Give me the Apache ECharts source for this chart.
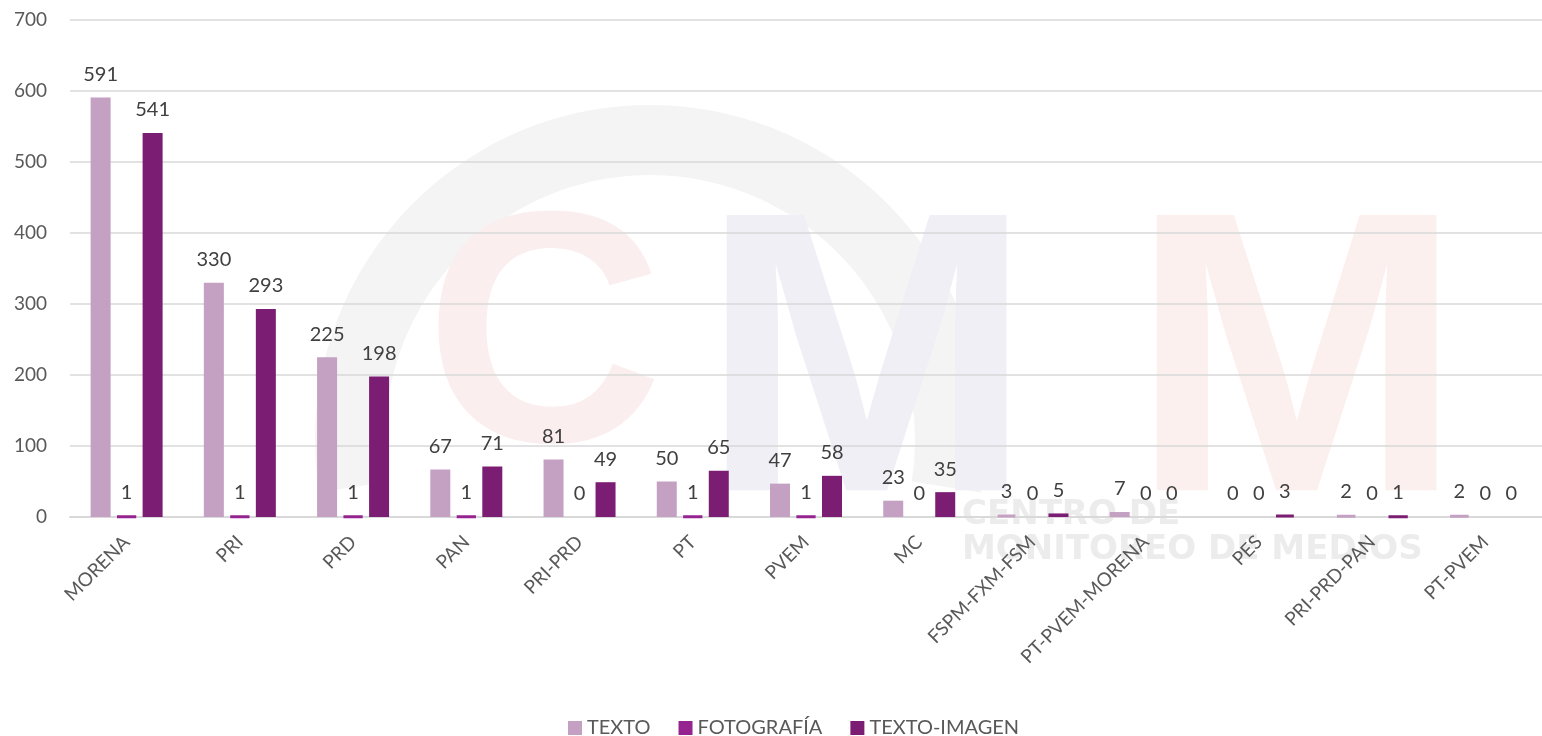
<!DOCTYPE html>
<html>
<head>
<meta charset="utf-8">
<script src="https://cdn.jsdelivr.net/npm/echarts@6/dist/echarts.min.js"></script>
<style>
  html, body { margin: 0; padding: 0; background: #fff; }
  #chart { width: 1542px; height: 736px; }
</style>
</head>
<body>
<div id="chart"></div>
<script>
// datos
var partidos = ['MORENA', 'PRI', 'PRD', 'PAN', 'PRI-PRD', 'PT', 'PVEM', 'MC',
  'FSPM-FXM-FSM', 'PT-PVEM-MORENA', 'PES', 'PRI-PRD-PAN', 'PT-PVEM'];
var texto = [591, 330, 225, 67, 81, 50, 47, 23, 3, 7, 0, 2, 2];
var fotografia = [1, 1, 1, 1, 0, 1, 1, 0, 0, 0, 0, 0, 0];
var textoImagen = [541, 293, 198, 71, 49, 65, 58, 35, 5, 0, 3, 1, 0];

var fuente = 'Lato, "Open Sans", sans-serif';

var myChart = echarts.init(document.getElementById('chart'));

function serie(nombre, datos, color) {
    return {
        name: nombre,
        type: 'bar',
        barWidth: 20,
        barGap: '30%',
        itemStyle: { color: color },
        label: {
            show: true,
            position: 'top',
            distance: 13,
            color: '#404040',
            fontSize: 20,
            fontFamily: fuente
        },
        data: datos.map(function (v) {
            // Excel dibuja una barra mínima para valores pequeños
            return v > 0 && v < 5 ? { value: v, itemStyle: { borderColor: color, borderWidth: 3 } } : v;
        })
    };
}

myChart.setOption({
    animation: false,
    textStyle: { fontFamily: fuente },
    // marca de agua aproximada (logo CMM de fondo)
    graphic: [
        {
            type: 'arc', z: -10, silent: true,
            shape: { cx: 650, cy: 440, r: 300, startAngle: Math.PI * 0.95, endAngle: Math.PI * 2.05 },
            style: { stroke: '#f4f4f4', lineWidth: 70, fill: null }
        },
        {
            type: 'text', z: -9, silent: true, left: 425, top: 185,
            style: { text: 'C', fontSize: 330, fontWeight: 'bold', fill: '#fbeeee', fontFamily: 'Liberation Sans' }
        },
        {
            type: 'text', z: -9, silent: true, left: 700, top: 180,
            style: { text: 'M', fontSize: 400, fontWeight: 'bold', fill: '#efeff5', fontFamily: 'Liberation Sans' }
        },
        {
            type: 'text', z: -9, silent: true, left: 1130, top: 180,
            style: { text: 'M', fontSize: 400, fontWeight: 'bold', fill: '#fcf0ee', fontFamily: 'Liberation Sans' }
        },
        {
            type: 'text', z: -8, silent: true, left: 962, top: 498,
            style: { text: 'CENTRO DE', fontSize: 34, fontWeight: 'bold', fill: '#ececec', fontFamily: 'DejaVu Sans' }
        },
        {
            type: 'text', z: -8, silent: true, left: 962, top: 533,
            style: { text: 'MONITOREO DE MEDIOS', fontSize: 34, fontWeight: 'bold', fill: '#ececec', fontFamily: 'DejaVu Sans' }
        }
    ],
    grid: { left: 70, right: 0, top: 20, bottom: 219 },
    legend: {
        top: 713,
        left: 563,
        itemWidth: 14,
        itemHeight: 14,
        itemGap: 28,
        icon: 'rect',
        textStyle: { color: '#595959', fontSize: 20, fontFamily: fuente },
        data: ['TEXTO', 'FOTOGRAFÍA', 'TEXTO-IMAGEN']
    },
    xAxis: {
        type: 'category',
        data: partidos,
        axisLine: { lineStyle: { color: '#d9d9d9', width: 2 } },
        axisTick: { show: false },
        axisLabel: {
            rotate: 45,
            margin: 22,
            interval: 0,
            color: '#595959',
            fontSize: 19,
            fontFamily: fuente
        }
    },
    yAxis: {
        type: 'value',
        min: 0,
        max: 700,
        interval: 100,
        axisLine: { show: false },
        axisTick: { show: false },
        splitLine: { lineStyle: { color: '#d9d9d9', width: 1.5 } },
        axisLabel: { color: '#595959', fontSize: 19, margin: 23, fontFamily: fuente }
    },
    series: [
        serie('TEXTO', texto, '#c4a0c3'),
        serie('FOTOGRAFÍA', fotografia, '#962490'),
        serie('TEXTO-IMAGEN', textoImagen, '#7b1e73')
    ]
});
</script>
</body>
</html>
